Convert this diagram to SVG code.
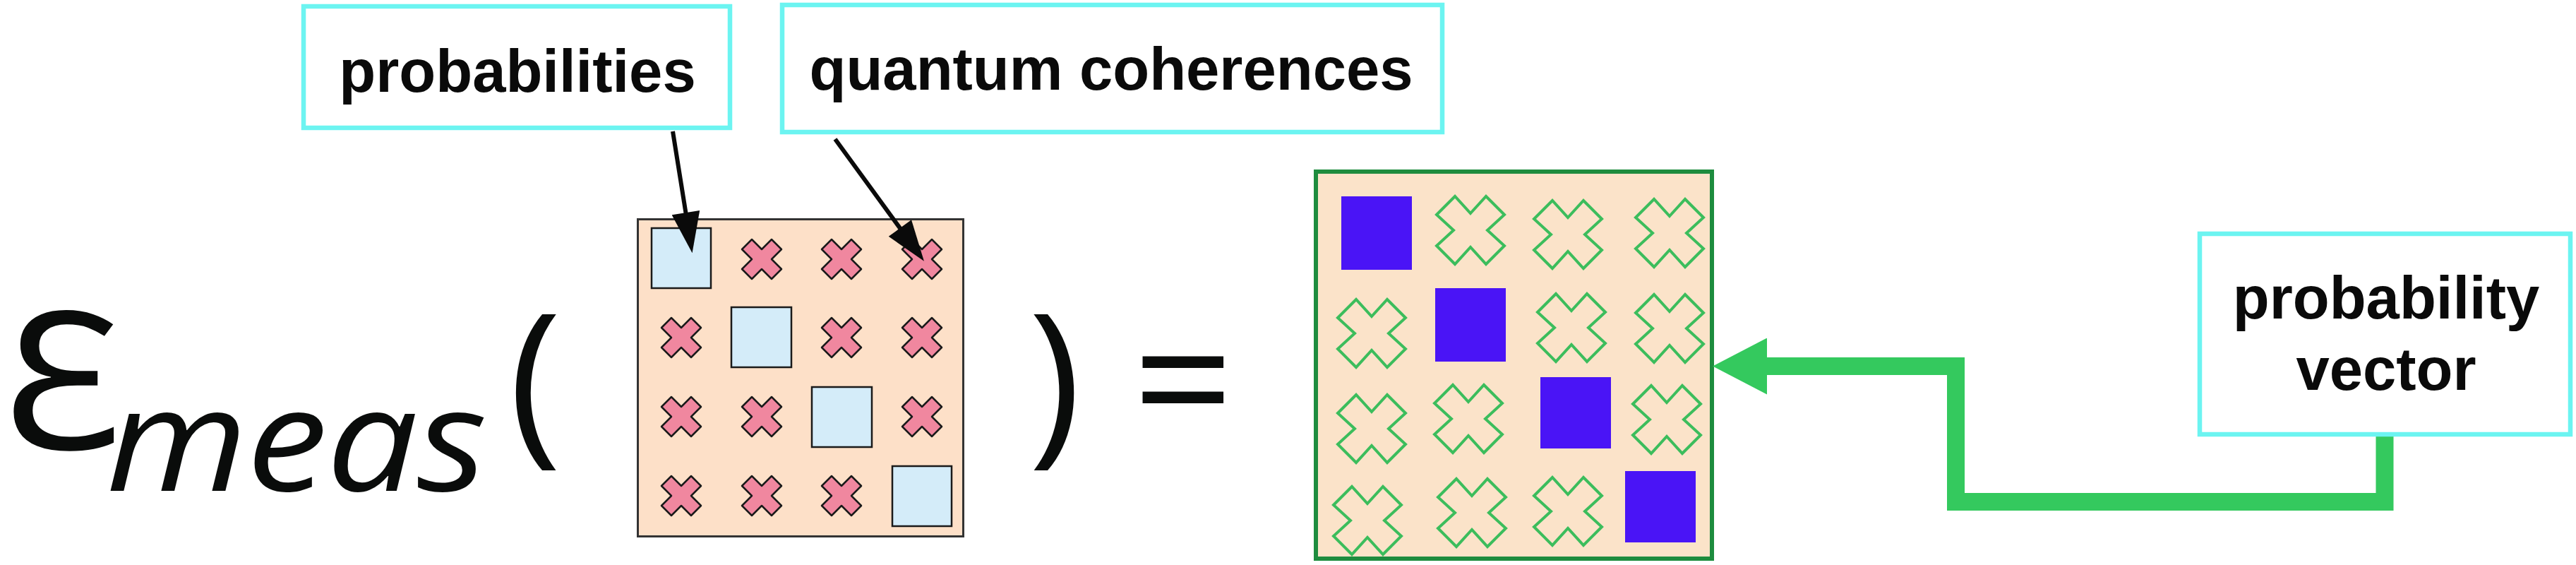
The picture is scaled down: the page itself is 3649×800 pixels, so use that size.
<svg xmlns="http://www.w3.org/2000/svg" xmlns:xlink="http://www.w3.org/1999/xlink" width="3649" height="800" viewBox="0 0 3649 800">
<style>
.box{fill:#ffffff;stroke:#6cf4f1;stroke-width:6.5}
.lbl{font-family:"Liberation Sans",Arial,Helvetica,sans-serif;font-weight:bold;font-size:85px;fill:#0a0a0a;text-anchor:middle}
.math{font-family:"Open Sans","Noto Sans","DejaVu Sans",sans-serif;fill:#0a0c0b}
.lmat{fill:#fde0c8;stroke:#333333;stroke-width:3}
.rmat{fill:#fbe3c9;stroke:#1e8c3e;stroke-width:6}
.pbox{fill:#d4ecf9;stroke:#1a1a1a;stroke-width:2.5}
.pcross{fill:#f0879f;stroke:#1a1a1a;stroke-width:2.5;stroke-linejoin:round}
.gcross{fill:none;stroke:#3cbd5c;stroke-width:4}
.vbox{fill:#4a14f6}
.blk{stroke:#0a0a0a;stroke-width:6;fill:none}
.grn{stroke:#34c95e;stroke-width:25;fill:none;stroke-linejoin:miter}
</style>
<defs>
<polygon id="xs" points="0,-14 14,-28 28,-14 14,0 28,14 14,28 0,14 -14,28 -28,14 -14,0 -28,-14 -14,-28"/>
<polygon id="xl" points="0,-24 22,-48 48,-22 24,0 48,22 22,48 0,24 -22,48 -48,22 -24,0 -48,-22 -22,-48"/>
<marker id="ah" markerUnits="userSpaceOnUse" markerWidth="60" markerHeight="40" viewBox="0 0 52 36" refX="22" refY="18" orient="auto">
<path d="M0,0 L52,18 L0,36 Z" fill="#0a0a0a"/>
</marker>
<marker id="gh" markerUnits="userSpaceOnUse" markerWidth="80" markerHeight="80" viewBox="0 0 76 78" refX="1" refY="39" orient="auto">
<path d="M0,0 L75,39 L0,78 Z" fill="#34c95e"/>
</marker>
</defs>

<g id="formula">
<text class="math" transform="translate(4,636) scale(1.05,1)" x="0" y="0" font-size="272">Ɛ</text>
<text class="math" transform="translate(150,695) scale(1.13,1)" x="0" y="0" font-size="204" font-style="italic" font-weight="500" textLength="478" lengthAdjust="spacing">meas</text>
<text class="math" x="758" y="626" font-size="253" text-anchor="middle">(</text>
<text class="math" x="1494" y="626" font-size="253" text-anchor="middle">)</text>
<text class="math" x="1676" y="626" font-size="250" text-anchor="middle">=</text>
</g>

<g id="density-matrix">
<rect class="lmat" x="903.5" y="310.5" width="461" height="449"/>
<rect class="pbox" x="923" y="323" width="84" height="85"/>
<rect class="pbox" x="1036" y="435" width="85" height="85"/>
<rect class="pbox" x="1150" y="548" width="85" height="85"/>
<rect class="pbox" x="1264" y="660" width="84" height="85"/>
<use xlink:href="#xs" class="pcross" x="1079" y="367"/>
<use xlink:href="#xs" class="pcross" x="1192" y="367"/>
<use xlink:href="#xs" class="pcross" x="1306" y="367"/>
<use xlink:href="#xs" class="pcross" x="965" y="478"/>
<use xlink:href="#xs" class="pcross" x="1192" y="478"/>
<use xlink:href="#xs" class="pcross" x="1306" y="478"/>
<use xlink:href="#xs" class="pcross" x="965" y="590"/>
<use xlink:href="#xs" class="pcross" x="1079" y="590"/>
<use xlink:href="#xs" class="pcross" x="1306" y="590"/>
<use xlink:href="#xs" class="pcross" x="965" y="702"/>
<use xlink:href="#xs" class="pcross" x="1079" y="702"/>
<use xlink:href="#xs" class="pcross" x="1192" y="702"/>
</g>

<g id="measured-matrix">
<rect class="rmat" x="1864" y="243" width="561" height="548"/>
<rect class="vbox" x="1900" y="278" width="100" height="104"/>
<rect class="vbox" x="2033" y="408" width="100" height="104"/>
<rect class="vbox" x="2182" y="534" width="100" height="101"/>
<rect class="vbox" x="2302" y="667" width="100" height="101"/>
<use xlink:href="#xl" class="gcross" x="2083" y="326"/>
<use xlink:href="#xl" class="gcross" x="2221" y="332"/>
<use xlink:href="#xl" class="gcross" x="2365" y="330"/>
<use xlink:href="#xl" class="gcross" x="1943" y="472"/>
<use xlink:href="#xl" class="gcross" x="2226" y="464"/>
<use xlink:href="#xl" class="gcross" x="2365" y="465"/>
<use xlink:href="#xl" class="gcross" x="1943" y="607"/>
<use xlink:href="#xl" class="gcross" x="2080" y="593"/>
<use xlink:href="#xl" class="gcross" x="2361" y="594"/>
<use xlink:href="#xl" class="gcross" x="1937" y="737"/>
<use xlink:href="#xl" class="gcross" x="2085" y="726"/>
<use xlink:href="#xl" class="gcross" x="2221" y="724"/>
</g>

<g id="connectors">
<line class="blk" x1="953" y1="186" x2="975.3" y2="325.4" marker-end="url(#ah)"/>
<line class="blk" x1="1183" y1="197" x2="1289.3" y2="342.8" marker-end="url(#ah)"/>
<path class="grn" d="M3378,612 V710.5 H2770.5 V518.5 H2502" marker-end="url(#gh)"/>
</g>

<g id="probabilities">
<rect class="box" x="430" y="9" width="604" height="172"/>
<text class="lbl" x="733" y="130">probabilities</text>
</g>

<g id="quantum-coherences">
<rect class="box" x="1108" y="7" width="935" height="180"/>
<text class="lbl" x="1574" y="127">quantum coherences</text>
</g>

<g id="probability-vector">
<rect class="box" x="3116" y="331" width="525" height="284"/>
<text class="lbl" x="3380" y="451">probability</text>
<text class="lbl" x="3380" y="552">vector</text>
</g>
</svg>
